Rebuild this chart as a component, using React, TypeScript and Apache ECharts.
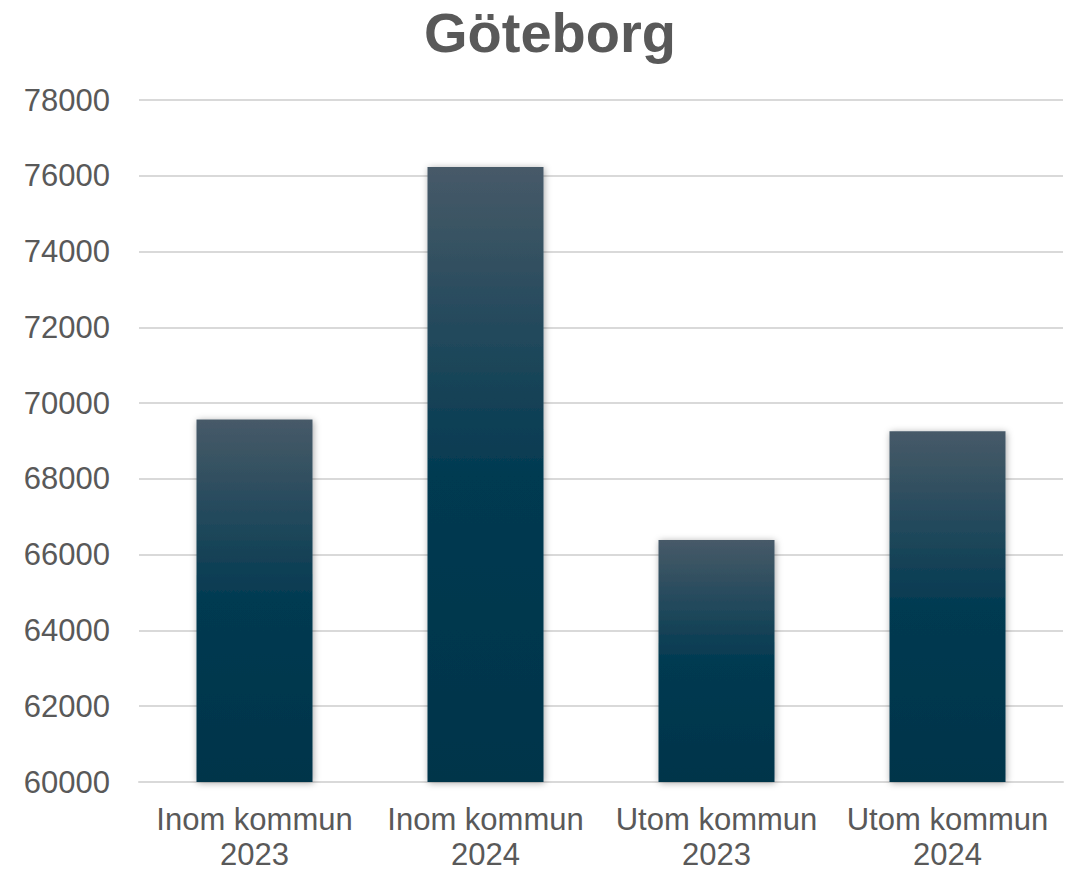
import React, { useEffect, useRef } from "react";
import * as echarts from "echarts";

const categories = ["Inom kommun\n2023", "Inom kommun\n2024", "Utom kommun\n2023", "Utom kommun\n2024"];
const values = [69570, 76230, 66390, 69255];
const titleText = "Göteborg";

export default function App() {
  const ref = useRef<HTMLDivElement>(null);
  useEffect(() => {
    document.body.style.margin = "0";
    const chart = echarts.init(ref.current!, null, { renderer: "svg" });
    const barColor = new echarts.graphic.LinearGradient(0, 0, 0, 1, [
      { offset: 0, color: "#475a68" },
      { offset: 0.5, color: "#033a51" },
      { offset: 1, color: "#00344a" },
    ]);
    chart.setOption({
      animation: false,
      backgroundColor: "#ffffff",
      graphic: [
        {
          type: "text",
          x: 550,
          y: 4,
          style: {
            text: titleText,
            textAlign: "center",
            textVerticalAlign: "top",
            fontFamily: "Liberation Sans, Arial, sans-serif",
            fontSize: 56,
            fontWeight: "bold",
            fill: "#595959",
          },
        },
      ],
      grid: { left: 139, right: 16, top: 100, bottom: 83, containLabel: false },
      xAxis: {
        type: "category",
        data: categories,
        axisLine: { show: true, lineStyle: { color: "#d9d9d9", width: 2 } },
        axisTick: { show: false },
        axisLabel: {
          color: "#595959",
          fontSize: 31,
          fontFamily: "Liberation Sans, Arial, sans-serif",
          lineHeight: 35,
          margin: 20,
          interval: 0,
        },
      },
      yAxis: {
        type: "value",
        min: 60000,
        max: 78000,
        interval: 2000,
        axisLine: { show: false },
        axisTick: { show: false },
        splitLine: { lineStyle: { color: "#d9d9d9", width: 2 } },
        axisLabel: {
          color: "#595959",
          fontSize: 31,
          fontFamily: "Liberation Sans, Arial, sans-serif",
          margin: 29,
          formatter: (v: number) => String(v),
        },
      },
      series: [
        {
          type: "bar",
          data: values,
          barWidth: 116,
          itemStyle: {
            color: barColor,
            shadowBlur: 7,
            shadowColor: "rgba(0,0,0,0.35)",
            shadowOffsetX: 1,
            shadowOffsetY: 1,
          },
        },
      ],
    });
    return () => chart.dispose();
  }, []);
  return <div ref={ref} style={{ position: "fixed", left: 0, top: 0, width: 1079, height: 872 }} />;
}
